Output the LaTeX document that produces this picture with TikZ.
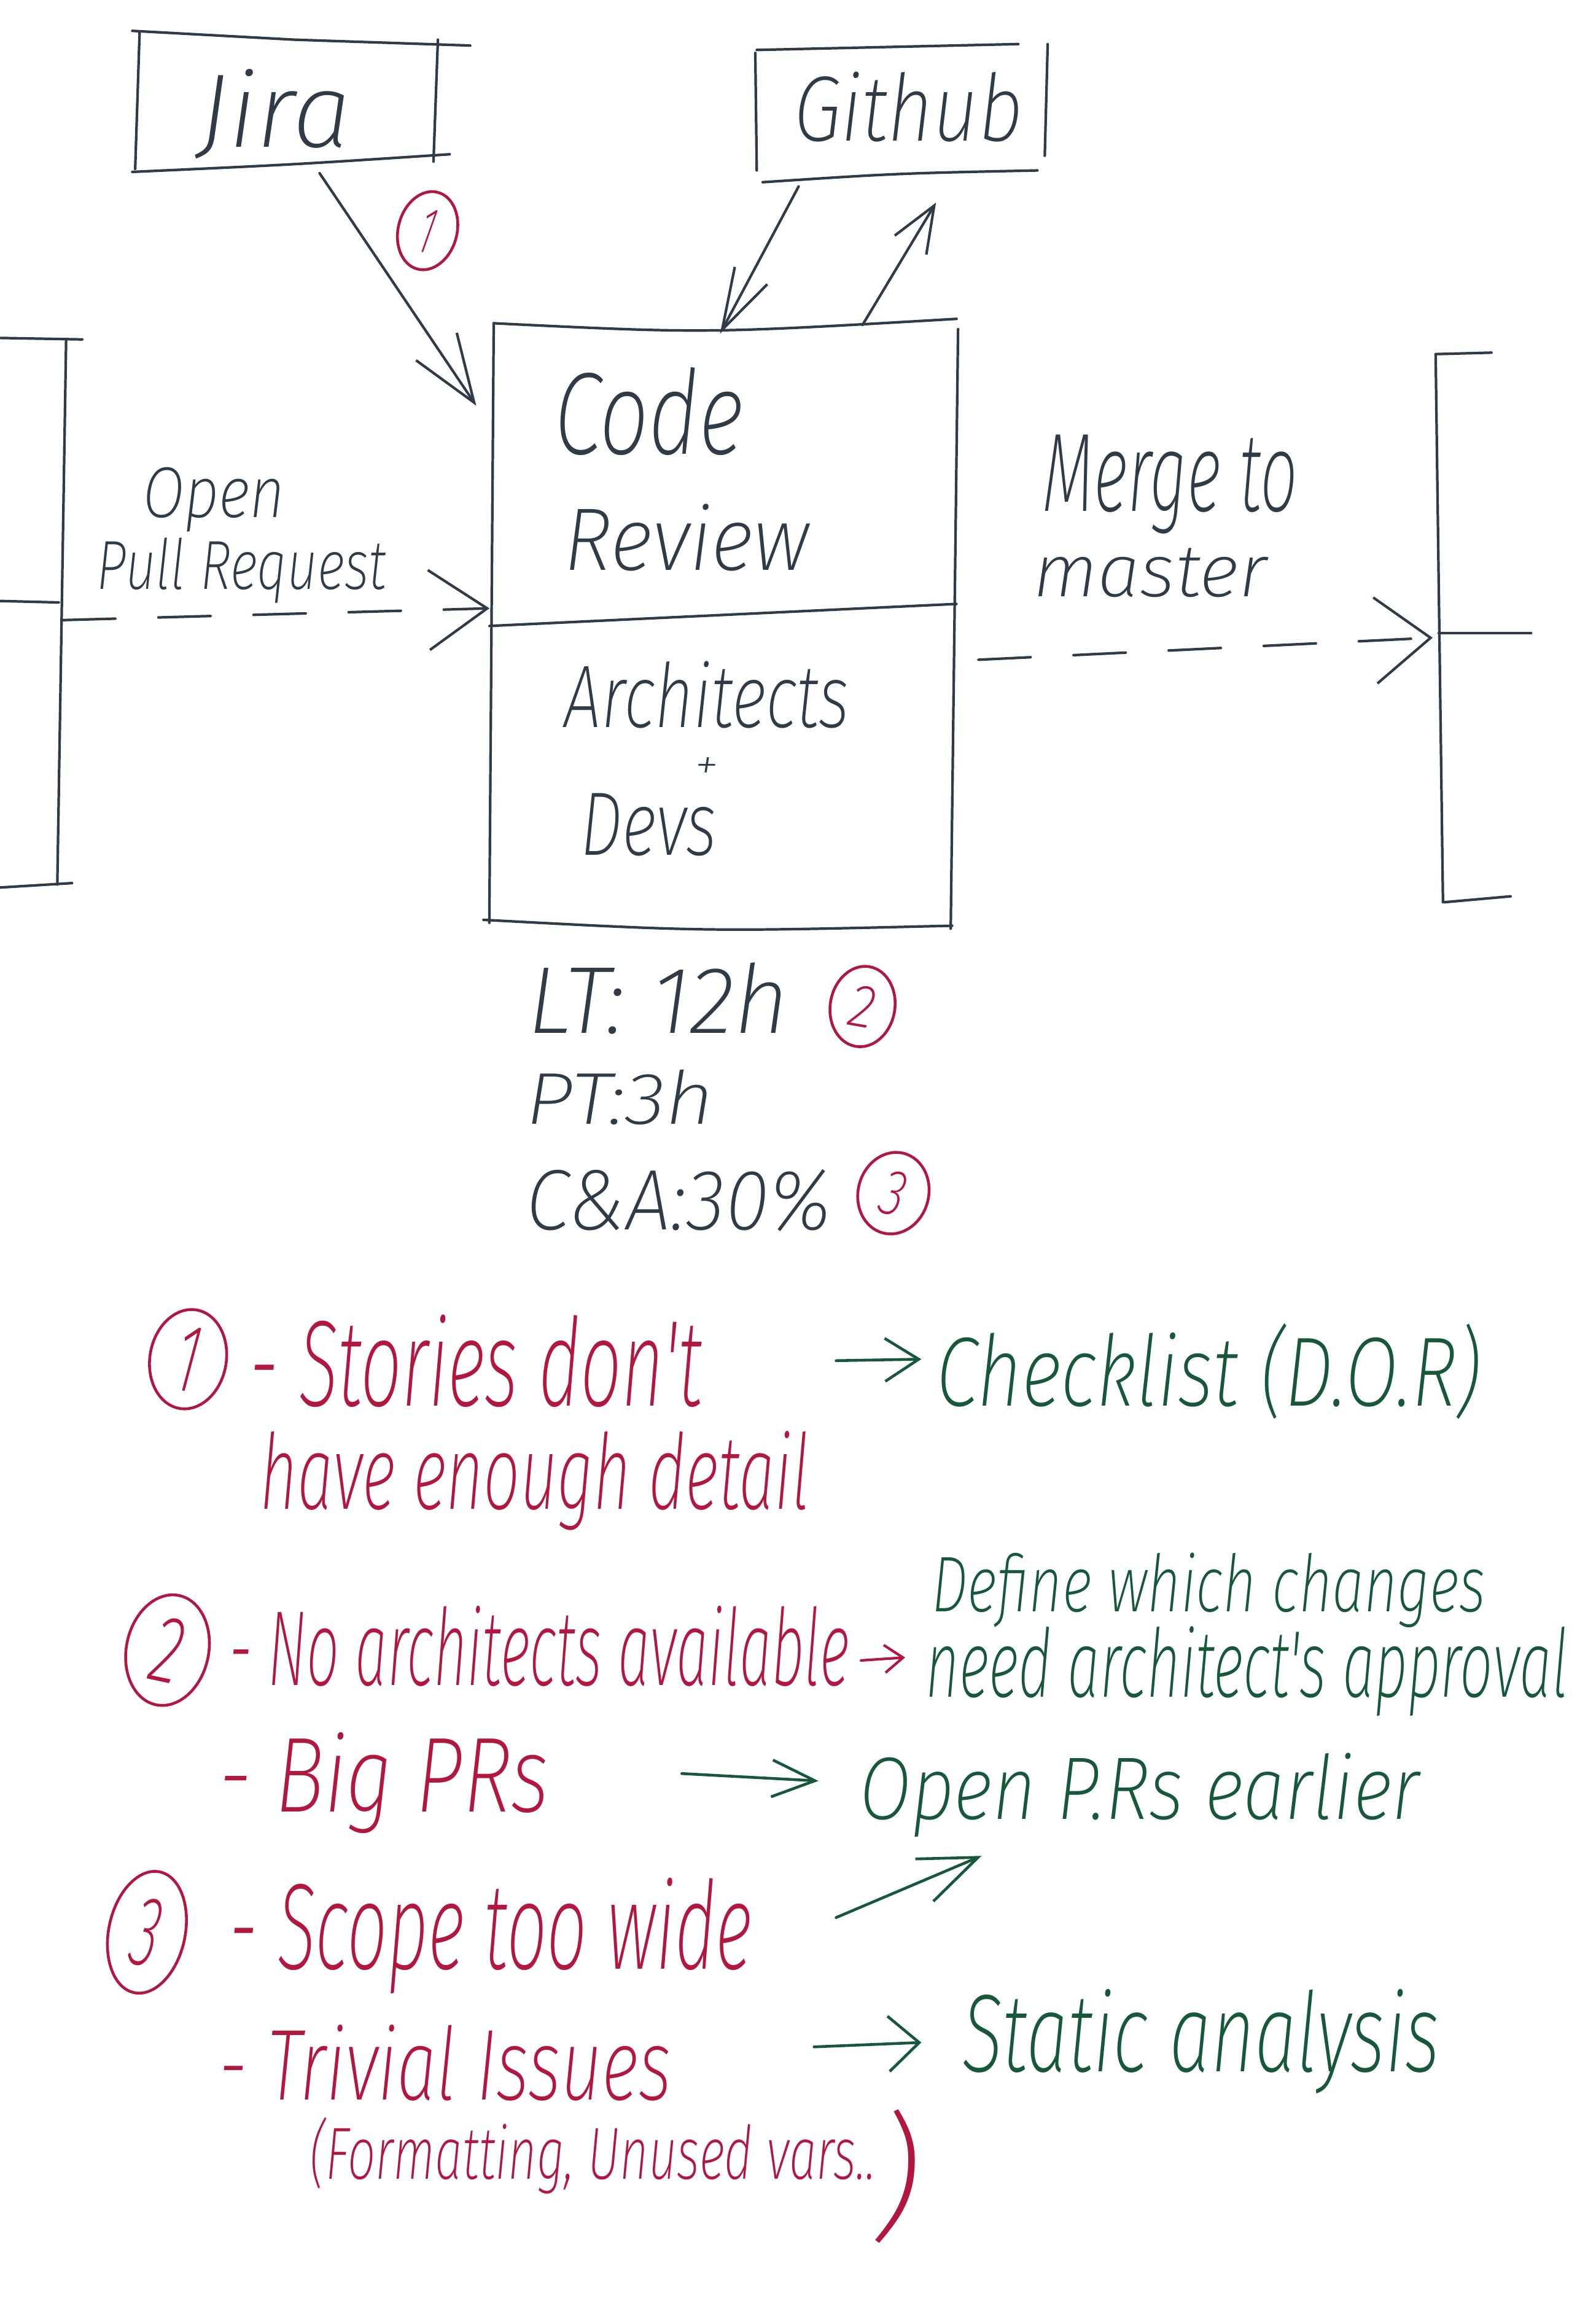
\documentclass[tikz,border=0pt]{standalone}
\usepackage{fontspec}
\usepackage{graphicx}
\usetikzlibrary{arrows.meta,calc,shapes.geometric}
\newfontfamily\handfont{Fira Sans ExtraLight Italic}
\definecolor{ink}{HTML}{2F3C48}
\definecolor{redink}{HTML}{B1173F}
\definecolor{greenink}{HTML}{17583A}
\newdimen\pxu
\pxu=0.023923cm
% handwritten word: width, height above baseline, text
\newcommand\hw[3]{\resizebox{#1\pxu}{#2\pxu}{#3}}
\begin{document}
\begin{tikzpicture}[x=0.023923cm,y=-0.023923cm,line width=1.2pt,color=ink,line cap=round,line join=round,
  hand/.style={inner sep=0pt,outer sep=0pt,anchor=base west,font=\handfont},
  frame/.style={rectangle,inner sep=0pt},
  numring/.style={ellipse,draw=redink,text=redink,inner sep=0pt,line width=1.3pt,font=\handfont},
  flow/.style={dash pattern=on 0.85cm off 0.7cm},
  redtxt/.style={hand,text=redink},
  greentxt/.style={hand,text=greenink},
  greenarrow/.style={greenink,line width=1.3pt}]

\fill[white] (0,0) rectangle (1086,1568);
\useasboundingbox (0,0) rectangle (1086,1568);

% ---- boxes (frames drawn as loose pen strokes) ----
\node[frame,minimum width=203\pxu,minimum height=92\pxu] (jira) at (195.5,68) {};
\draw (90,21) -- (200,27) -- (320,31);
\draw (95,22) -- (92,115);
\draw (90,117) .. controls (200,112) .. (306,105);
\draw (298,27) -- (295,110);
\node[hand] (jiralbl) at (135,100) {\hw{104}{53}{Jira}};

\node[frame,minimum width=199\pxu,minimum height=90\pxu] (github) at (613.5,77) {};
\draw (515,34) -- (693,30);
\draw (514,36) -- (515,116);
\draw (519,124) .. controls (610,118) .. (706,116);
\draw (713,30) -- (711,106);
\node[hand] (githublbl) at (540,96) {\hw{156}{47}{Github}};

\node[frame,minimum width=316\pxu,minimum height=410\pxu] (cr) at (492,424) {};
\draw (336,220) .. controls (480,227) .. (651,217);
\draw (336,220) -- (333,628);
\draw (329,626) .. controls (480,634) .. (648,630);
\draw (652,224) -- (647,632);
\draw (cr.west |- 0,426) -- (cr.east |- 0,411);
\node[hand] (code) at (377,309) {\hw{129}{59}{Code}};
\node[hand] (review) at (384,388) {\hw{167}{45}{Review}};
\node[hand] (arch) at (384,495) {\hw{194}{45}{Architects}};
\node[inner sep=0pt,font=\handfont] (plus) at (481,523) {\hw{16}{15}{+}};
\node[hand] (devs) at (395,582) {\hw{93}{42}{Devs}};

% ---- previous stage ----
\draw (0,230) -- (56,231);
\draw (45,231) -- (39,602);
\draw (0,604) -- (49,601);
\draw (0,409) -- (40,410);
\coordinate (prevstage) at (43,422);

% ---- next stage ----
\draw (977,241) -- (1015,240);
\draw (977,241) -- (982,614);
\draw (983,614) -- (1028,610);
\draw (979,431) -- (1042,431);
\coordinate (nextstage) at (975,434);

% ---- flows ----
\draw[flow,-{Straight Barb[length=0.95cm,width=1.3cm]}] (prevstage) -- (cr.west |- 0,414);
\node[hand] (open) at (97,352) {\hw{97}{34}{Open}};
\node[hand] (pullreq) at (66,401) {\hw{197}{35}{Pull Request}};

\draw[flow,-{Straight Barb[length=0.9cm,width=1.4cm]}] ($(cr.east)+(15,25)$) -- (nextstage);
\node[hand] (merge) at (710,348) {\hw{173}{52}{Merge to}};
\node[hand] (master) at (703,406) {\hw{159}{33}{master}};

\draw[-{Straight Barb[length=1.1cm,width=0.8cm]}] ($(jira.south)+(22,3)$) -- ($(cr.north west)+(-9,58)$);
\draw[-{Straight Barb[length=1.0cm,width=0.6cm]}] ($(github.south)+(-70,4)$) -- ($(cr.north)+(-2,9)$);
\draw[-{Straight Barb[length=0.75cm,width=0.6cm]}] ($(cr.north)+(95,3)$) -- ($(github.south)+(23.5,15)$);

\node[numring,minimum width=40\pxu,minimum height=54\pxu,rotate=-15] (ref1) at (291,157) {\hw{10}{30}{1}};

% ---- metrics ----
\node[hand] (lt) at (359,703) {\hw{178}{48}{LT: 12h}};
\node[numring,minimum width=44\pxu,minimum height=55\pxu,rotate=-10] (ref2) at (587,685) {\hw{17}{28}{2}};
\node[hand] (pt) at (358,765) {\hw{128}{37}{PT:3h}};
\node[hand] (ca) at (358,837) {\hw{208}{41}{C\&A:30\%}};
\node[numring,minimum width=48\pxu,minimum height=56\pxu,rotate=-15] (ref3) at (608,812) {\hw{16}{30}{3}};

% ---- problems ----
\node[numring,minimum width=52\pxu,minimum height=68\pxu,rotate=-10] (p1) at (128,925) {\hw{16}{44}{1}};
\node[redtxt] (stories) at (170,957) {\hw{308}{62}{- Stories don't}};
\node[redtxt] (detail) at (177,1027) {\hw{374}{53}{have enough detail}};

\node[numring,minimum width=56\pxu,minimum height=76\pxu,rotate=-12] (p2) at (114,1123) {\hw{20}{44}{2}};
\node[redtxt] (noarch) at (156,1147) {\hw{422}{54}{- No architects available}};
\coordinate (r1a) at (586,1130);
\coordinate (r1b) at (616,1128);
\draw[redink,-{Straight Barb[length=0.3cm,width=0.45cm]}] (r1a) -- (r1b);
\node[redtxt] (bigpr) at (149,1233) {\hw{225}{54}{- Big PRs}};

\node[numring,minimum width=52\pxu,minimum height=84\pxu,rotate=-12] (p3) at (100,1315) {\hw{18}{46}{3}};
\node[redtxt] (scope) at (156,1340) {\hw{356}{62}{- Scope too wide}};
\node[redtxt] (trivial) at (149,1429) {\hw{308}{51}{- Trivial Issues}};
\node[redtxt] (fmt) at (211,1483) {\hw{385}{42}{(Formatting, Unused vars..}};
\node[inner sep=0pt,text=redink,font=\handfont] (fmtclose) at (611,1481) {\resizebox*{31\pxu}{91\pxu}{)}};

% ---- remedies ----
\coordinate (g1a) at (569,926);
\coordinate (g1b) at (627,925);
\draw[greenarrow,-{Straight Barb[length=0.55cm,width=0.7cm]}] (g1a) -- (g1b);
\node[greentxt] (checklist) at (637,957) {\hw{371}{56}{Checklist (D.O.R)}};

\node[greentxt] (define) at (634,1097) {\hw{377}{40}{Define which changes}};
\node[greentxt] (approval) at (630,1155) {\hw{437}{48}{need architect's approval}};

\coordinate (g2a) at (464,1207);
\coordinate (g2b) at (557,1212);
\draw[greenarrow,-{Straight Barb[length=0.7cm,width=0.6cm]}] (g2a) -- (g2b);
\node[greentxt] (earlier) at (585,1238) {\hw{381}{45}{Open P.Rs earlier}};

\coordinate (g3a) at (569,1305);
\coordinate (g3b) at (668,1263);
\draw[greenarrow,-{Straight Barb[length=0.95cm,width=0.75cm]}] (g3a) -- (g3b);

\coordinate (g4a) at (554,1393);
\coordinate (g4b) at (627,1390);
\draw[greenarrow,-{Straight Barb[length=0.5cm,width=0.9cm]}] (g4a) -- (g4b);
\node[greentxt] (static) at (655,1410) {\hw{325}{56}{Static analysis}};

\end{tikzpicture}
\end{document}
